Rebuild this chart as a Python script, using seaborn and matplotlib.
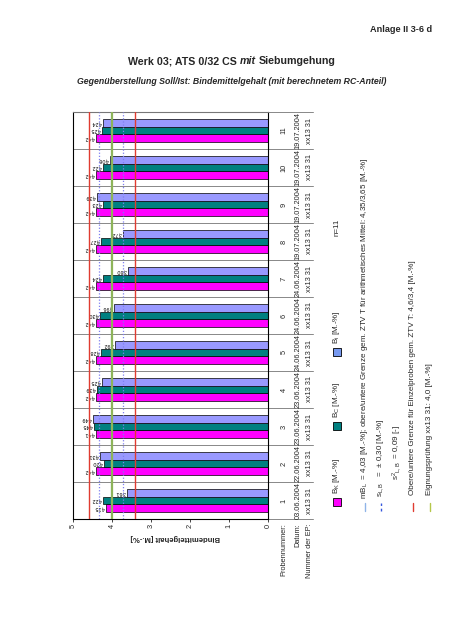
import matplotlib
matplotlib.use("Agg")
import matplotlib.pyplot as plt
import matplotlib.transforms as mtransforms
from matplotlib.patches import Rectangle
from matplotlib.lines import Line2D
import pandas as pd
import seaborn as sns

# Daten
probe_nr = [str(i) for i in range(1, 12)]
datum = ["03.06.2004", "22.06.2004", "23.06.2004", "23.06.2004", "24.06.2004", "24.06.2004",
         "24.06.2004", "19.07.2004", "19.07.2004", "19.07.2004", "19.07.2004"]
ep_nr = ["xx13 31"] * 11
b_k = [4.15, 4.42, 4.41, 4.42, 4.42, 4.42, 4.42, 4.42, 4.42, 4.42, 4.42]
b_c = [4.22, 4.20, 4.45, 4.39, 4.28, 4.30, 4.24, 4.27, 4.23, 4.22, 4.25]
b_i = [3.61, 4.31, 4.49, 4.25, 3.92, 3.96, 3.60, 3.72, 4.39, 4.06, 4.24]
serien = ["B_K", "B_C", "B_i"]
farben = ["#FF00FF", "#008080", "#9999FF"]

grenze_oben, grenze_unten = 4.6, 3.4
mittel = 4.03
s_lb = 0.30
eignung = 4.0
x_ticks = [0, 1, 2, 3, 4, 5]

W, H = 452, 640
FONT = "Liberation Sans"
ROT = "#E03C31"
GRUEN = "#8DB45A"


def fx(px):
    return px / W


def fy(py):
    return 1 - py / H


sns.set_style("white")
plt.rcParams['font.family'] = [FONT, 'DejaVu Sans']
plt.rcParams['mathtext.fontset'] = 'custom'
plt.rcParams['mathtext.rm'] = FONT
plt.rcParams['mathtext.it'] = FONT + ':italic'
plt.rcParams['mathtext.bf'] = FONT + ':bold'

fig = plt.figure(figsize=(W / 100, H / 100), dpi=100)
fig.patch.set_facecolor("white")
ax = fig.add_axes([fx(73), fy(519), 195 / W, 407 / H])

df = pd.DataFrame({
    "probe": probe_nr * 3,
    "wert": b_k + b_c + b_i,
    "art": [serien[0]] * 11 + [serien[1]] * 11 + [serien[2]] * 11,
})
sns.barplot(data=df, y="probe", x="wert", hue="art", order=probe_nr, hue_order=serien,
            palette=farben, width=0.63, orient="h", errorbar=None, saturation=1,
            edgecolor="black", linewidth=0.5, legend=False, ax=ax)

ax.set_xlim(5, 0)
ax.set_ylim(-0.5, 10.5)
ax.set_xticks(x_ticks)
ax.set_xticklabels([str(t) for t in x_ticks])
ax.tick_params(axis='x', labelsize=5.3, labelrotation=90, length=2.5, width=0.6, pad=1,
               direction='out', bottom=True)
ax.set_yticks([])
ax.set_xlabel("")
ax.set_ylabel("")
for side in ["left", "right", "bottom"]:
    ax.spines[side].set_color("black")
    ax.spines[side].set_linewidth(0.8)
ax.spines["top"].set_color("#777777")
ax.spines["top"].set_linewidth(0.8)

# Wertbeschriftungen an den Balken
for p in ax.patches:
    w = p.get_width()
    yc = p.get_y() + p.get_height() / 2
    ax.text(w + 0.03, yc, f"{w:.2f}".replace(".", ","), rotation=180, ha="right", va="center",
            fontsize=3.9, color="black")

# Grenzlinien
ax.axvline(grenze_oben, color=ROT, lw=1.0, zorder=3)
ax.axvline(grenze_unten, color=ROT, lw=1.0, zorder=3)
ax.axvline(mittel, color="#8FB4E8", lw=0.8, zorder=3)
ax.axvline(mittel + s_lb, color="#7F7FF0", lw=0.9, ls=(0, (1, 1.5)), zorder=3)
ax.axvline(mittel - s_lb, color="#7F7FF0", lw=0.9, ls=(0, (1, 1.5)), zorder=3)
ax.axvline(eignung, color=GRUEN, lw=1.6, zorder=3)

# Datentabelle rechts
trans = mtransforms.blended_transform_factory(ax.transAxes, ax.transData)
ext = (313 - 73) / 195
for i in range(12):
    ax.plot([0, ext], [i - 0.5, i - 0.5], color="#888888", lw=0.7, transform=trans,
            clip_on=False, zorder=0)


def ax_x(px):
    return (px - 73) / 195


for i in range(11):
    ax.text(ax_x(284), i, probe_nr[i], transform=trans, rotation=90, ha="center", va="center",
            fontsize=5.3)
    ax.text(ax_x(298), i, datum[i], transform=trans, rotation=90, ha="center", va="center",
            fontsize=5.3)
    ax.text(ax_x(310), i, ep_nr[i], transform=trans, rotation=90, ha="center", va="center",
            fontsize=5.3)

for px, txt in [(284, "Probennummer:"), (298, "Datum:"), (310, "Nummer der EP:")]:
    fig.text(fx(px), fy(523), txt, rotation=90, ha="center", va="top", fontsize=5.3)

fig.text(fx(175), fy(537), "Bindemittelgehalt [M.-%]", rotation=180, ha="center", va="center",
         fontsize=5.5, fontweight="bold")

# Legende
lfs = 5.8
sq = 8
for yc, col, lab in [(501.5, farben[0], r"B$_\mathrm{K}$ [M.-%]"),
                     (426, farben[1], r"B$_\mathrm{C}$ [M.-%]"),
                     (352, "#7799F0", r"B$_\mathrm{i}$ [M.-%]")]:
    fig.add_artist(Rectangle((fx(337 - sq / 2), fy(yc + sq / 2)), sq / W, sq / H,
                             transform=fig.transFigure, facecolor=col, edgecolor="black", lw=0.6))
    fig.text(fx(337), fy(yc - 7.5), lab, rotation=90, ha="center", va="bottom", fontsize=lfs)
fig.text(fx(337), fy(236), "n=11", rotation=90, ha="center", va="bottom", fontsize=lfs)

legend_rows = [
    (365, "#8FB4E8", "-", r"mB$_\mathrm{L}$  = 4,03 [M.-%]; obere/untere Grenze gem. ZTV T für arithmetisches Mittel: 4,35/3,65 [M.-%]", 499),
    (381, "#3355DD", (0, (2, 2)), r"s$_\mathrm{L,B}$   =  ± 0,30 [M.-%]", 497),
    (397, None, None, r"s$^\mathrm{2}$$_\mathrm{L,B}$  = 0,09 [-]", 480),
    (413, ROT, "-", "Obere/untere Grenze für Einzelproben gem. ZTV T: 4,6/3,4 [M.-%]", 495),
    (430, "#B5C74A", "-", "Eignungsprüfung xx13 31: 4,0 [M.-%]", 495),
]
for px, col, ls, txt, ystart in legend_rows:
    if col is not None:
        fig.add_artist(Line2D([fx(px), fx(px)], [fy(511), fy(503)], transform=fig.transFigure,
                              color=col, lw=1.0, ls=ls))
    fig.text(fx(px), fy(ystart), txt, rotation=90, ha="center", va="bottom", fontsize=lfs)

# Kopfzeilen
fig.text(fx(432), fy(29), "Anlage II 3-6 d", ha="right", va="center", fontsize=6.6,
         fontweight="bold")

renderer = fig.canvas.get_renderer()
title_parts = [("Werk 03; ATS 0/32 CS", "normal"), ("mit", "italic"), ("Siebumgehung", "normal")]
tfs = 7.7
probe = fig.text(0, 0, "a a", fontsize=tfs, fontweight="bold")
probe2 = fig.text(0, 0, "aa", fontsize=tfs, fontweight="bold")
space_w = probe.get_window_extent(renderer).width - probe2.get_window_extent(renderer).width
probe.remove()
probe2.remove()
widths = []
for txt, st in title_parts:
    t = fig.text(0, 0, txt, fontsize=tfs, fontweight="bold", fontstyle=st)
    widths.append(t.get_window_extent(renderer).width)
    t.remove()
total = sum(widths) + space_w * (len(widths) - 1)
xpos = 232 - total / 2
for (txt, st), w in zip(title_parts, widths):
    fig.text(fx(xpos), fy(61), txt, fontsize=tfs, fontweight="bold", fontstyle=st,
             ha="left", va="center")
    xpos += w + space_w

fig.text(fx(232), fy(82), "Gegenüberstellung Soll/Ist: Bindemittelgehalt (mit berechnetem RC-Anteil)",
         ha="center", va="center", fontsize=6.3, fontweight="bold", fontstyle="italic")

fig.savefig("out.png", dpi=100, facecolor="white")
